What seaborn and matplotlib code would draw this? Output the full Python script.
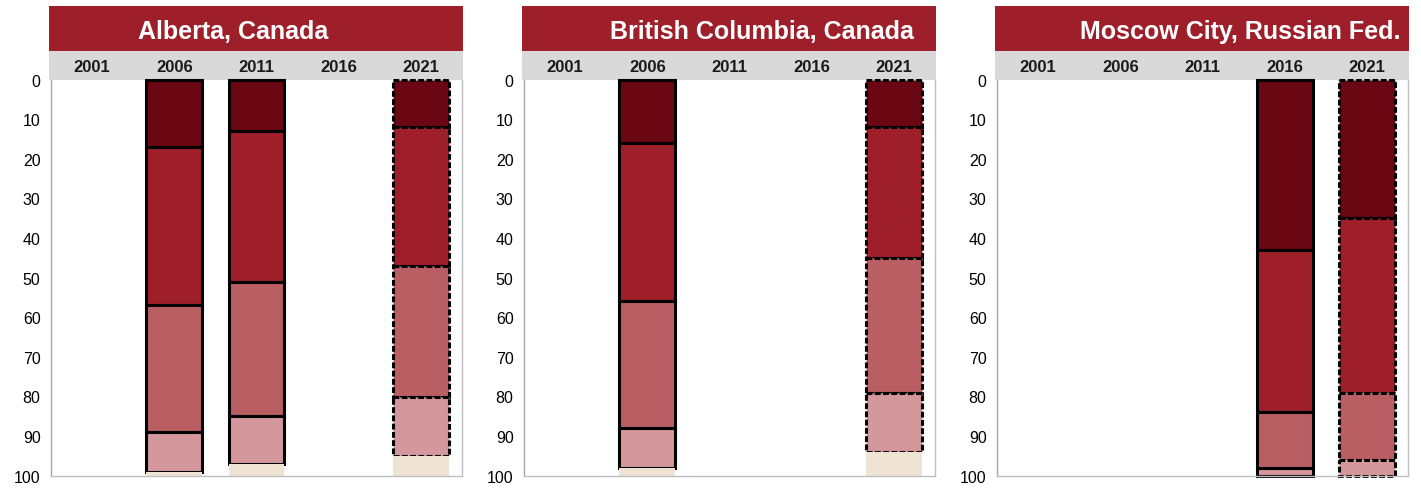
import numpy as np
import pandas as pd
import matplotlib
matplotlib.use("Agg")
import matplotlib.pyplot as plt
from matplotlib.patches import Rectangle
import seaborn as sns

# ---------------- data ----------------
years = ["2001", "2006", "2011", "2016", "2021"]
dashed_years = ["2021"]
regions = ["Alberta, Canada", "British Columbia, Canada", "Moscow City, Russian Fed."]
segments = ["s1", "s2", "s3", "s4", "s5"]
seg_colors = ["#6B0712", "#9E1F2A", "#B95E63", "#D4979B", "#EFE3D3"]
seg_edged = [True, True, True, True, False]

# segment shares (percent) per region -> year
alberta = {"2006": [17, 40, 32, 10, 1],
           "2011": [13, 38, 34, 12, 3],
           "2021": [12, 35, 33, 15, 5]}
british_columbia = {"2006": [16, 40, 32, 10, 2],
                    "2021": [12, 33, 34, 15, 6]}
moscow = {"2016": [43, 41, 14, 2, 0],
          "2021": [35, 44, 17, 4, 0]}
region_data = [alberta, british_columbia, moscow]

# ---------------- style ----------------
sns.set_theme(style="white")
plt.rcParams["font.family"] = ["Liberation Sans", "DejaVu Sans"]

W, H = 1421, 489
fig = plt.figure(figsize=(W / 100, H / 100), dpi=100)

panel_left_px = [51, 524, 997]
axes_w_px = 411
axes_top_px = 80.7
axes_bot_px = 476.7
axes_h_px = axes_bot_px - axes_top_px
title_cx = [0.443, 0.580, 0.592]

title_red = "#9E1F2A"
header_gray = "#D9D9D9"
spine_gray = "#BFBFBF"

for i, (region, rdata) in enumerate(zip(regions, region_data)):
    ax = fig.add_axes([panel_left_px[i] / W, (H - axes_bot_px) / H,
                       axes_w_px / W, axes_h_px / H])
    present = [y for y in years if y in rdata]
    cum = np.zeros(len(present))
    for k, seg in enumerate(segments):
        vals = np.array([rdata[y][k] for y in present], dtype=float)
        mask = vals > 0
        if mask.any():
            xs = [y for y, m in zip(present, mask) if m]
            sns.barplot(x=xs, y=vals[mask], order=years, color=seg_colors[k],
                        errorbar=None, width=0.68, ax=ax,
                        bottom=cum[mask],
                        edgecolor="black" if seg_edged[k] else "none",
                        linewidth=2.2 if seg_edged[k] else 0,
                        saturation=1)
            for patch in ax.containers[-1].patches:
                patch.set_clip_on(False)
                xc = patch.get_x() + patch.get_width() / 2
                if years[int(round(xc))] in dashed_years and seg_edged[k]:
                    patch.set_linestyle((0, (1.9, 0.8)))
        cum = cum + vals

    ax.set_ylim(100, 0)
    ax.set_xlim(-0.5, len(years) - 0.5)
    ax.set_yticks(np.arange(0, 101, 10))
    ax.tick_params(axis="y", direction="inout", length=7, width=1,
                   color="#A6A6A6", labelsize=11.5, pad=4, labelcolor="#000000")
    ax.xaxis.tick_top()
    ax.tick_params(axis="x", length=0, pad=4, labelsize=12, labelcolor="#1a1a1a")
    for lab in ax.get_xticklabels():
        lab.set_fontweight("bold")
    ax.set_xlabel("")
    ax.set_ylabel("")
    for side in ["left", "right", "bottom"]:
        ax.spines[side].set_visible(True)
        ax.spines[side].set_color(spine_gray)
        ax.spines[side].set_linewidth(1)
    ax.spines["left"].set_color("#A6A6A6")
    ax.spines["top"].set_visible(False)

    bx0 = -2 / axes_w_px
    bw = (axes_w_px + 3) / axes_w_px
    hdr_top = 1 + (axes_top_px - 52) / axes_h_px
    ttl_top = 1 + (axes_top_px - 7) / axes_h_px
    ax.add_patch(Rectangle((bx0, 1.0), bw, hdr_top - 1.0, transform=ax.transAxes,
                           facecolor=header_gray, edgecolor="none",
                           clip_on=False, zorder=0))
    ax.add_patch(Rectangle((bx0, hdr_top), bw, ttl_top - hdr_top,
                           transform=ax.transAxes, facecolor=title_red,
                           edgecolor="none", clip_on=False, zorder=0))
    ax.text(title_cx[i], (hdr_top + ttl_top) / 2, region, transform=ax.transAxes,
            ha="center", va="center_baseline", color="white", fontsize=18.0,
            fontweight="bold")

fig.savefig("out.png", dpi=100)
